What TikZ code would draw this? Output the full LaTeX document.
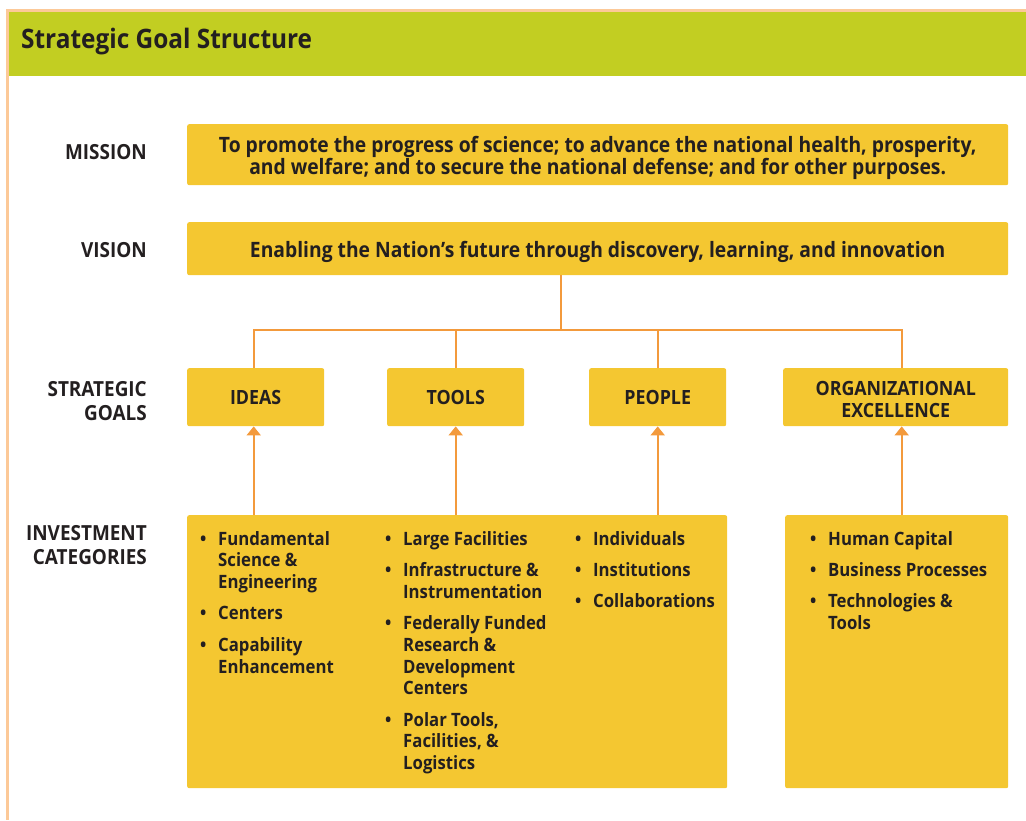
\documentclass[tikz,border=0pt]{standalone}
\usepackage{fontspec}
\setmainfont[FakeStretch=0.91]{Open Sans}
\usetikzlibrary{arrows.meta}
\definecolor{boxy}{HTML}{F4C731}
\definecolor{hdr}{HTML}{C2CE22}
\definecolor{org}{HTML}{F39A3C}
\definecolor{peach}{HTML}{FCC998}
\definecolor{ink}{HTML}{231F20}
\newcommand{\txtfont}{\bfseries\fontsize{18.4}{21.8}\selectfont}
\newcommand{\bigtxtfont}{\bfseries\fontsize{21.2}{22}\selectfont}
\newcommand{\lblfont}{\bfseries\fontsize{20.8}{24.5}\selectfont}
\newcommand{\goalfont}{\bfseries\fontsize{19.6}{22}\selectfont}
\newcommand{\bulmark}{\makebox[18pt][l]{•}}
\begin{document}
\begin{tikzpicture}[x=1pt,y=-1pt,
  box/.style={fill=boxy, rounded corners=2pt, inner sep=0pt, anchor=north west, text=ink, font=\goalfont, align=center},
  boxtext/.style={text=ink, font=\bigtxtfont, align=center, inner sep=0pt},
  lbl/.style={anchor=east, text=ink, font=\lblfont, align=right, inner sep=0pt},
  conn/.style={draw=org, line width=2pt},
  arr/.style={draw=org, line width=2pt, -{Triangle[width=14pt,length=9pt]}},
  list/.style={anchor=base west, text=ink, font=\txtfont, inner sep=0pt}
]
\useasboundingbox (0,0) rectangle (1026,820);
% frame and header
\fill[peach] (6,9) rectangle (1026,12);
\fill[peach] (6,9) rectangle (9,820);
\fill[hdr] (9,12) rectangle (1026,76);
\node[anchor=west, text=ink, font=\bfseries\fontsize{26.8}{30}\selectfont, inner sep=0pt] (title) at (21,42) {Strategic Goal Structure};

% labels
\node[lbl] (lmission) at (147,152) {MISSION};
\node[lbl] (lvision) at (147,250) {VISION};
\node[lbl] (lgoals) at (147,401) {STRATEGIC\\GOALS};
\node[lbl] (linvest) at (147,545) {INVESTMENT\\CATEGORIES};

% boxes
\node[box, minimum width=821pt, minimum height=61pt] (mission) at (187,124) {};
\node[boxtext] (missiontxt) at ([yshift=-3pt]mission.center)
  {To promote the progress of science; to advance the national health, prosperity,\\and welfare; and to secure the national defense; and for other purposes.};
\node[box, minimum width=821pt, minimum height=53pt] (vision) at (187,222) {};
\node[boxtext] (visiontxt) at ([yshift=-3pt]vision.center)
  {Enabling the Nation’s future through discovery, learning, and innovation};
\node[box, minimum width=137pt, minimum height=58pt] (ideas) at (187,368) {IDEAS};
\node[box, minimum width=137pt, minimum height=58pt] (tools) at (387,368) {TOOLS};
\node[box, minimum width=137pt, minimum height=58pt] (people) at (589,368) {PEOPLE};
\node[box, minimum width=225pt, minimum height=58pt] (orgex) at (783,368) {};
\node[boxtext, font=\goalfont] (orgextxt) at ([yshift=-2pt]orgex.center) {ORGANIZATIONAL\\EXCELLENCE};
\node[box, minimum width=540pt, minimum height=273pt] (inv1) at (187,515) {};
\node[box, minimum width=223pt, minimum height=273pt] (inv2) at (785,515) {};

% lists
\node[list] (c1) at (200,545) {\begin{tabular}[t]{@{}l@{}l@{}}
\bulmark & Fundamental\\ & Science \&\\ & Engineering\\[9.5pt]
\bulmark & Centers\\[9.5pt]
\bulmark & Capability\\ & Enhancement\end{tabular}};
\node[list] (c2) at (385,545) {\begin{tabular}[t]{@{}l@{}l@{}}
\bulmark & Large Facilities\\[9.5pt]
\bulmark & Infrastructure \&\\ & Instrumentation\\[9.5pt]
\bulmark & Federally Funded\\ & Research \&\\ & Development\\ & Centers\\[9.5pt]
\bulmark & Polar Tools,\\ & Facilities, \&\\ & Logistics\end{tabular}};
\node[list] (c3) at (575,545) {\begin{tabular}[t]{@{}l@{}l@{}}
\bulmark & Individuals\\[9.5pt]
\bulmark & Institutions\\[9.5pt]
\bulmark & Collaborations\end{tabular}};
\node[list] (c4) at (810,545) {\begin{tabular}[t]{@{}l@{}l@{}}
\bulmark & Human Capital\\[9.5pt]
\bulmark & Business Processes\\[9.5pt]
\bulmark & Technologies \&\\ & Tools\end{tabular}};

% connectors
\coordinate (vj) at (561,330);
\coordinate (ideasx) at ([xshift=-2pt]ideas.north);
\coordinate (orgx) at ([xshift=6pt]orgex.north);
\draw[conn] (vision.south -| vj) -- (vj);
\draw[conn] (ideasx) |- (vj) -| (orgx);
\draw[conn] (tools.north) -- (tools.north |- vj);
\draw[conn] (people.north) -- (people.north |- vj);

% arrows
\draw[arr] (inv1.north -| ideasx) -- (ideasx |- ideas.south);
\draw[arr] (inv1.north -| tools.south) -- (tools.south);
\draw[arr] (inv1.north -| people.south) -- (people.south);
\draw[arr] (inv2.north -| orgx) -- (orgx |- orgex.south);
\end{tikzpicture}
\end{document}
